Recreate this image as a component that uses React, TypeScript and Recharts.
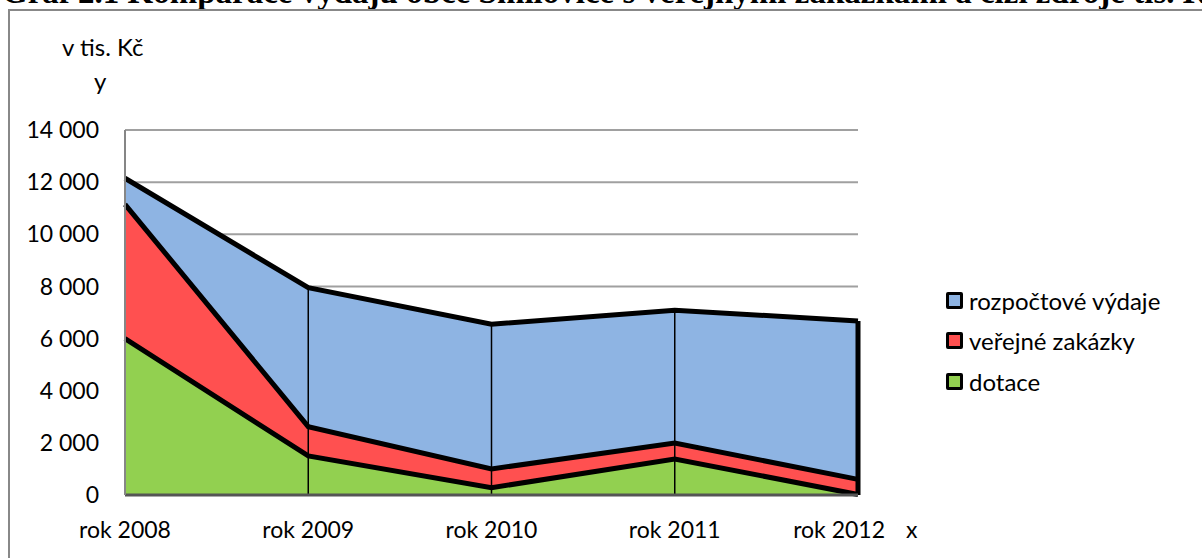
import React from 'react'
import {
	ComposedChart,
	Area,
	Line,
	XAxis,
	YAxis,
	CartesianGrid,
	ReferenceLine,
} from 'recharts'

const years = ['rok 2008', 'rok 2009', 'rok 2010', 'rok 2011', 'rok 2012']
const dotace = [6000, 1500, 280, 1380, 20]
const zakazky = [5150, 1120, 720, 610, 580]
const vydaje = [1000, 5330, 5550, 5100, 6070]
const yTicks = [0, 2000, 4000, 6000, 8000, 10000, 12000, 14000]

const seriesInfo = [
	{ key: 'vydaje', name: 'rozpočtové výdaje', color: '#8EB4E3' },
	{ key: 'zakazky', name: 'veřejné zakázky', color: '#FF5050' },
	{ key: 'dotace', name: 'dotace', color: '#92D050' },
]

// cumulative tops are only used for the black outlines on top of the fills
const data = years.map((name, i) => ({
	name,
	dotace: dotace[i],
	zakazky: zakazky[i],
	vydaje: vydaje[i],
	top1: dotace[i],
	top2: dotace[i] + zakazky[i],
	total: dotace[i] + zakazky[i] + vydaje[i],
}))

const font = 'Lato, "Open Sans", sans-serif'
const fmt = (v: number) => String(v).replace(/\B(?=(\d{3})+(?!\d))/g, ' ')

function XTick(props: any) {
	const { x, y, payload, index } = props
	const last = index === years.length - 1
	return (
		<text
			x={last ? x + 27 : x}
			y={y}
			dy='0.71em'
			textAnchor={last ? 'end' : 'middle'}
			fill='#000'
			fontSize={23}
			fontFamily={font}
		>
			{payload.value}
		</text>
	)
}

function LegendBox() {
	return (
		<div
			style={{
				position: 'absolute',
				left: 946,
				top: 280,
				fontFamily: font,
				fontSize: 24,
				color: '#000',
			}}
		>
			{seriesInfo.map((s) => (
				<div
					key={s.key}
					style={{ display: 'flex', alignItems: 'center', height: 40.5 }}
				>
					<span
						style={{
							width: 11,
							height: 11,
							background: s.color,
							border: '3px solid #000',
							borderRadius: 2,
							marginRight: 6,
						}}
					/>
					<span>{s.name}</span>
				</div>
			))}
		</div>
	)
}

export default function App() {
	return (
		<div
			style={{
				position: 'absolute',
				left: 0,
				top: 0,
				width: 1202,
				height: 558,
				overflow: 'hidden',
				background: '#fff',
			}}
		>
			<svg
				width={1202}
				height={20}
				style={{ position: 'absolute', left: 0, top: 0 }}
			>
				<text
					x={2}
					y={3}
					fontFamily='"Liberation Serif", serif'
					fontWeight='bold'
					fontSize={33}
					fill='#000'
				>
					Graf 2.1 Komparace výdajů obce Smilovice s veřejnými zakázkami a cizí zdroje tis. Kč
				</text>
			</svg>
			<div
				style={{
					position: 'absolute',
					left: 8,
					top: 9,
					width: 1300,
					height: 700,
					borderLeft: '2px solid #888',
					borderTop: '2px solid #888',
				}}
			/>
			<div
				style={{
					position: 'absolute',
					left: 62,
					top: 32,
					fontFamily: font,
					fontSize: 24,
				}}
			>
				v tis. Kč
			</div>
			<div
				style={{
					position: 'absolute',
					left: 94,
					top: 66,
					fontFamily: font,
					fontSize: 24,
				}}
			>
				y
			</div>
			<div
				style={{
					position: 'absolute',
					left: 906,
					top: 515,
					fontFamily: font,
					fontSize: 23,
				}}
			>
				x
			</div>
			<div style={{ position: 'absolute', left: 0, top: 0 }}>
				<ComposedChart
					width={1202}
					height={558}
					data={data}
					margin={{ top: 130, right: 344, bottom: 0, left: 0 }}
				>
					<CartesianGrid vertical={false} stroke='#a0a0a0' strokeWidth={2} />
					<XAxis
						dataKey='name'
						height={63}
						axisLine={{ stroke: '#555', strokeWidth: 3 }}
						tickLine={false}
						tickSize={0}
						tickMargin={27}
						tick={<XTick />}
						interval={0}
					/>
					<YAxis
						width={125}
						domain={[0, 14000]}
						ticks={yTicks}
						tickFormatter={fmt}
						axisLine={{ stroke: '#868686', strokeWidth: 2 }}
						tickLine={false}
						tickSize={0}
						tickMargin={26}
						tick={{ fill: '#000', fontSize: 23, fontFamily: font }}
					/>
					<Area
						type='linear'
						dataKey='dotace'
						name='dotace'
						stackId='a'
						fill='#92D050'
						fillOpacity={1}
						stroke='none'
						isAnimationActive={false}
					/>
					<Area
						type='linear'
						dataKey='zakazky'
						name='veřejné zakázky'
						stackId='a'
						fill='#FF5050'
						fillOpacity={1}
						stroke='none'
						isAnimationActive={false}
					/>
					<Area
						type='linear'
						dataKey='vydaje'
						name='rozpočtové výdaje'
						stackId='a'
						fill='#8EB4E3'
						fillOpacity={1}
						stroke='none'
						isAnimationActive={false}
					/>
					{data.slice(1, 4).map((d) => (
						<ReferenceLine
							key={d.name}
							segment={[
								{ x: d.name, y: 0 },
								{ x: d.name, y: d.total },
							]}
							stroke='#000'
							strokeWidth={1.5}
						/>
					))}
					{['top1', 'top2', 'total'].map((k) => (
						<Line
							key={k}
							type='linear'
							dataKey={k}
							stroke='#000'
							strokeWidth={5}
							dot={false}
							activeDot={false}
							legendType='none'
							isAnimationActive={false}
						/>
					))}
					<ReferenceLine
						segment={[
							{ x: data[4].name, y: 0 },
							{ x: data[4].name, y: data[4].total },
						]}
						stroke='#000'
						strokeWidth={5}
					/>
				</ComposedChart>
			</div>
			<LegendBox />
		</div>
	)
}
